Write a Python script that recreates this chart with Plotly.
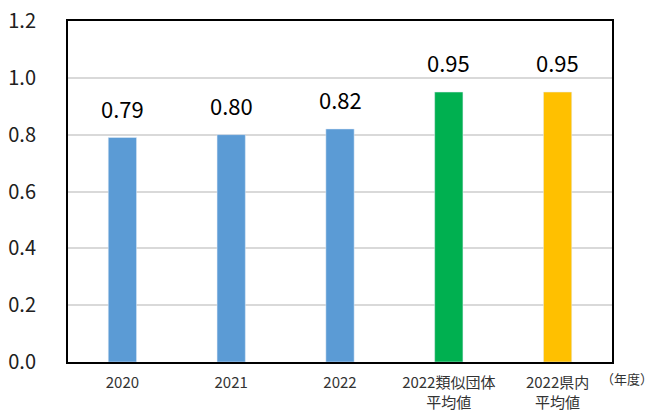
import plotly.graph_objects as go

categories = ["2020", "2021", "2022", "2022類似団体<br>平均値", "2022県内<br>平均値"]
values = [0.79, 0.80, 0.82, 0.95, 0.95]
labels = ["0.79", "0.80", "0.82", "0.95", "0.95"]
colors = ["#5B9BD5", "#5B9BD5", "#5B9BD5", "#00B050", "#FFC000"]
y_ticks = [0.0, 0.2, 0.4, 0.6, 0.8, 1.0, 1.2]
y_tick_text = ["0.0", "0.2", "0.4", "0.6", "0.8", "1.0", "1.2"]

font = "Noto Sans CJK JP"

fig = go.Figure(go.Bar(
    x=categories, y=values, marker_color=colors, width=0.26,
))

annotations = [
    dict(x=i, y=v, text=t, xref="x", yref="y", showarrow=False,
         yanchor="bottom", yshift=12, font=dict(size=22, color="#000000", family=font))
    for i, (v, t) in enumerate(zip(values, labels))
]
annotations.append(dict(text="（年度）", x=1.0, y=0, xref="paper", yref="paper",
                        xanchor="right", yanchor="middle", yshift=-16, xshift=43,
                        showarrow=False, font=dict(size=13, family=font, color="#333333")))

fig.update_layout(
    width=654, height=412,
    margin=dict(l=68, r=42, t=21, b=50),
    paper_bgcolor="white", plot_bgcolor="white",
    showlegend=False,
    font=dict(family=font, color="#000000"),
    xaxis=dict(type="category", range=[-0.5, len(categories) - 0.5], automargin=False,
               showline=True, linecolor="#000000", linewidth=2, mirror=True,
               tickfont=dict(size=15, color="#333333"), ticks="", ticklabelstandoff=6),
    yaxis=dict(range=[0, 1.2], tickvals=y_ticks, ticktext=y_tick_text, automargin=False,
               showgrid=True, gridcolor="#D9D9D9", gridwidth=1.5,
               showline=True, linecolor="#000000", linewidth=2, mirror=True,
               tickfont=dict(size=20, color="#202020"), ticklabelstandoff=26, zeroline=False),
    annotations=annotations,
)

fig.write_html("out.html")
